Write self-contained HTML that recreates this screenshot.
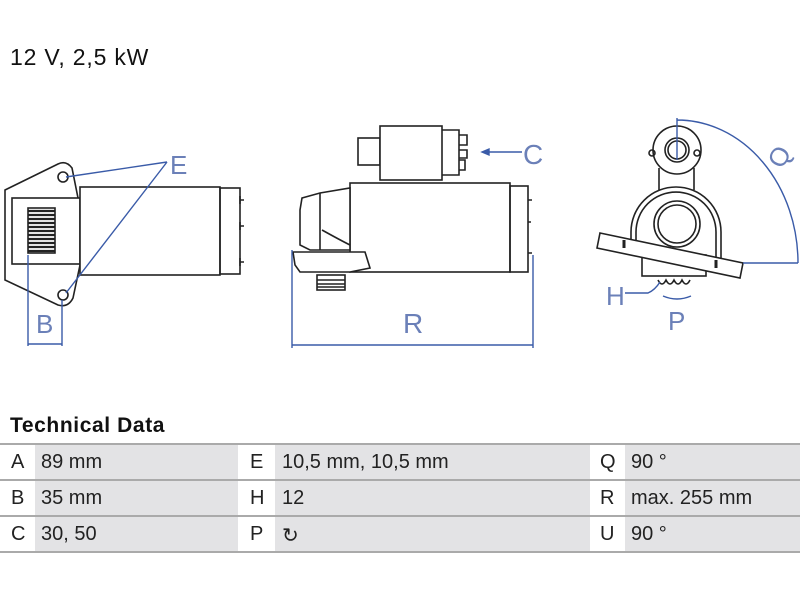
<!DOCTYPE html>
<html><head><meta charset="utf-8"><style>
body{margin:0;width:800px;height:600px;background:#fff;overflow:hidden;font-family:"Liberation Sans",sans-serif;position:relative}
.t{position:absolute}
</style></head><body>
<div class="t" style="left:10px;top:44px;font-size:23px;color:#111;letter-spacing:0.8px">12 V, 2,5 kW</div>
<svg width="800" height="410" style="position:absolute;left:0;top:0" fill="none" stroke="#222" stroke-width="1.6">
<path d="M5,190 L58,164 Q66,160 72,168 L80,208 L80,265 L73,298 Q68,308 58,305 L5,280 Z" fill="#fff"/>
<rect x="12" y="198" width="68" height="66" fill="#fff"/>
<rect x="28" y="208" width="27" height="45" fill="#fff"/>
<g stroke-width="2.2"><path d="M28,211H55M28,215H55M28,219H55M28,223H55M28,227H55M28,231H55M28,235H55M28,239H55M28,243H55M28,247H55M28,251H55"/></g>
<circle cx="63" cy="177" r="5"/><circle cx="63" cy="295" r="5"/>
<rect x="80" y="187" width="140" height="88" fill="#fff"/>
<rect x="220" y="188" width="20" height="86"/>
<path d="M240,200h4M240,226h4M240,262h4M240,196v8M240,222v8M240,258v8"/>
<g stroke="#3a5ba8" stroke-width="1.4">
<path d="M167,162L66,177M167,162L66,293"/>
<path d="M28,255V346M62,300V346M28,344H62"/>
</g>
<text x="170" y="174" font-size="26" fill="#6b80b8" stroke="none">E</text>
<text x="36" y="333" font-size="26" fill="#6b80b8" stroke="none">B</text>
<rect x="358" y="138" width="22" height="27"/>
<rect x="380" y="126" width="62" height="54" fill="#fff"/>
<path d="M442,130h17v45h-17M459,135h8v10h-8M459,150h8v8h-8M459,160h6v10h-6"/>
<rect x="350" y="183" width="160" height="89" fill="#fff"/>
<rect x="510" y="186" width="18" height="86"/>
<path d="M528,200h4M528,222h3M528,253h4"/>
<path d="M300,210 L302,198 L320,193 L350,188 L350,250 L310,250 L300,245 Z" fill="#fff"/>
<path d="M320,193V250M322,230 Q340,240 350,245"/>
<path d="M293,252 H365 L370,268 L350,272 H300 L295,265 Z" fill="#fff"/>
<rect x="317" y="275" width="28" height="15"/>
<path d="M317,280h28M317,284h28M317,287h28"/>
<g stroke="#3a5ba8" stroke-width="1.4">
<path d="M522,152H484"/><path d="M482,152l7,-3v6z" fill="#3a5ba8"/>
<path d="M292,250V348M533,255V348M292,345H533"/>
</g>
<text x="523" y="164" font-size="28" fill="#6b80b8" stroke="none">C</text>
<text x="403" y="333" font-size="28" fill="#6b80b8" stroke="none">R</text>
<circle cx="677" cy="150" r="24"/><circle cx="677" cy="150" r="12"/><circle cx="677" cy="150" r="9"/>
<circle cx="652" cy="153" r="3"/><circle cx="697" cy="153" r="3"/>
<path d="M659,168V190M694,168V190"/>
<path d="M631,255 V232 A45,45 0 0 1 721,232 V260" fill="#fff"/>
<path d="M636,255 V232 A40,40 0 0 1 716,232 V260"/>
<circle cx="677" cy="224" r="23"/><circle cx="677" cy="224" r="19"/>
<rect x="642" y="255" width="64" height="21" fill="#fff"/>
<path d="M600,233 L743,263 L740,278 L597,248 Z" fill="#fff"/>
<path d="M624,240v8M716,260v8" stroke-width="3"/>
<path d="M658,280 q4,8 8,0 q4,8 8,0 q4,8 8,0 q4,8 8,0" />
<g stroke="#3a5ba8" stroke-width="1.4">
<path d="M677,118V160M677,120 A121,143 0 0 1 798,263"/>
<path d="M743,263 L798,263"/>
<path d="M625,293H648Q655,290 660,282"/>
<path d="M663,296Q677,302 691,296"/>
</g>
<text x="0" y="0" font-size="26" fill="#6b80b8" stroke="none" transform="translate(782,170) rotate(-60)">Q</text>
<text x="606" y="305" font-size="26" fill="#6b80b8" stroke="none">H</text>
<text x="668" y="330" font-size="26" fill="#6b80b8" stroke="none">P</text>
</svg>
<div class="t" style="left:10px;top:414px;font-size:21px;font-weight:bold;color:#111;letter-spacing:0.6px">Technical Data</div>
<div style="position:absolute;left:0;top:443px;width:800px;height:110px;font-size:20px;color:#222">
<div style="position:absolute;left:0;top:0;width:800px;height:2px;background:#aaa"></div>
<div style="position:absolute;left:35px;top:2px;width:203px;height:107px;background:#e3e3e5"></div>
<div style="position:absolute;left:275px;top:2px;width:315px;height:107px;background:#e3e3e5"></div>
<div style="position:absolute;left:625px;top:2px;width:175px;height:107px;background:#e3e3e5"></div>
<div style="position:absolute;left:0;top:36px;width:800px;height:2px;background:#aaa"></div>
<div style="position:absolute;left:0;top:72px;width:800px;height:2px;background:#aaa"></div>
<div style="position:absolute;left:0;top:108px;width:800px;height:2px;background:#aaa"></div>
<div class="t" style="left:11px;top:8px">A</div><div class="t" style="left:41px;top:8px">89 mm</div>
<div class="t" style="left:250px;top:8px">E</div><div class="t" style="left:282px;top:8px">10,5 mm, 10,5 mm</div>
<div class="t" style="left:600px;top:8px">Q</div><div class="t" style="left:631px;top:8px">90 °</div>
<div class="t" style="left:11px;top:44px">B</div><div class="t" style="left:41px;top:44px">35 mm</div>
<div class="t" style="left:250px;top:44px">H</div><div class="t" style="left:282px;top:44px">12</div>
<div class="t" style="left:600px;top:44px">R</div><div class="t" style="left:631px;top:44px">max. 255 mm</div>
<div class="t" style="left:11px;top:80px">C</div><div class="t" style="left:41px;top:80px">30, 50</div>
<div class="t" style="left:250px;top:80px">P</div><div class="t" style="left:282px;top:80px">↻</div>
<div class="t" style="left:600px;top:80px">U</div><div class="t" style="left:631px;top:80px">90 °</div>
</div>
</body></html>
